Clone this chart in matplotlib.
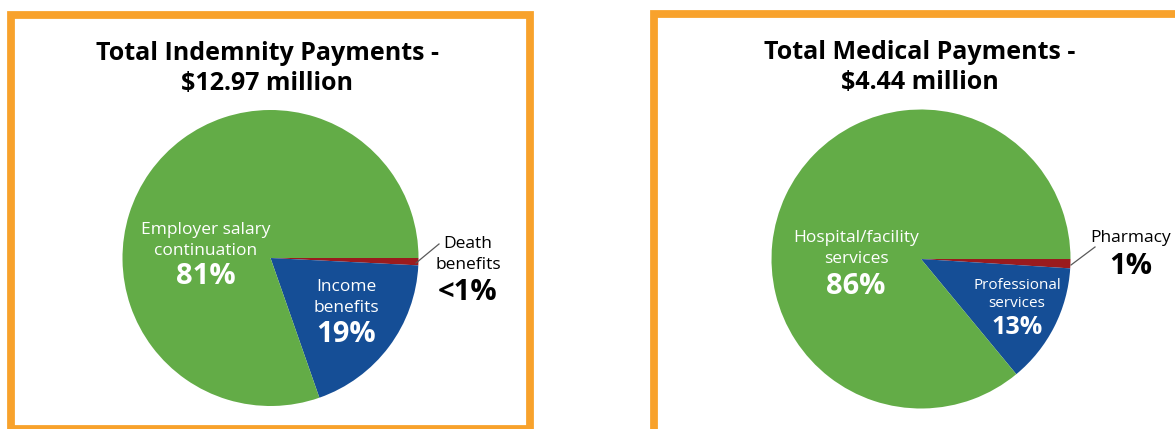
import matplotlib
matplotlib.use("Agg")
import matplotlib.pyplot as plt
from matplotlib.patches import Rectangle

plt.rcParams['font.family'] = ['Open Sans', 'DejaVu Sans']

# Indemnity payments breakdown (share of $12.97 million)
indemnity_categories = ["Death benefits", "Income benefits", "Employer salary continuation"]
indemnity_values = [0.8, 19, 81]
indemnity_pct_labels = ["<1%", "19%", "81%"]

# Medical payments breakdown (share of $4.44 million)
medical_categories = ["Pharmacy", "Professional services", "Hospital/facility services"]
medical_values = [1, 13, 86]
medical_pct_labels = ["1%", "13%", "86%"]

indemnity_title = "Total Indemnity Payments -\n$12.97 million"
medical_title = "Total Medical Payments -\n$4.44 million"

colors = ["#9A1B1E", "#154E96", "#63AC47"]
ORANGE = "#F8A22C"
W, H = 1175, 429

fig = plt.figure(figsize=(W / 100, H / 100), dpi=100)
ax = fig.add_axes([0, 0, 1, 1])
ax.set_xlim(0, W)
ax.set_ylim(0, H)
ax.set_aspect('equal')
ax.axis('off')


def Y(y):
    """Convert a top-down pixel row to the axes' bottom-up coordinate."""
    return H - y


def draw_panel(values, center, radius):
    ax.pie(values, colors=colors, startangle=0, counterclock=False,
           center=center, radius=radius, frame=True,
           wedgeprops=dict(linewidth=0))


# Panel frames
ax.add_patch(Rectangle((11, Y(428.5)), 519, 414, fill=False, edgecolor=ORANGE,
                       linewidth=5.6, joinstyle='miter', clip_on=False))
ax.add_patch(Rectangle((654, Y(430.5)), 560, 417, fill=False, edgecolor=ORANGE,
                       linewidth=5.6, joinstyle='miter', clip_on=False))

LBL = 12.5      # category label size
PCT = 21        # percentage label size

# Left panel: indemnity
draw_panel(indemnity_values, (270.5, Y(258)), 148)
ax.text(267, Y(68.5), indemnity_title, ha='center', va='center', fontsize=18,
        fontweight='bold', color='black', linespacing=1.3)
ax.text(206, Y(240.5), "Employer salary\ncontinuation", ha='center', va='center',
        fontsize=LBL, color='white', linespacing=1.35)
ax.text(206, Y(277), indemnity_pct_labels[2], ha='center', va='center',
        fontsize=PCT, fontweight='bold', color='white')
ax.text(346, Y(297.5), "Income\nbenefits", ha='center', va='center',
        fontsize=LBL, color='white', linespacing=1.35)
ax.text(346, Y(335), indemnity_pct_labels[1], ha='center', va='center',
        fontsize=PCT, fontweight='bold', color='white')
ax.text(468, Y(254.5), "Death\nbenefits", ha='center', va='center',
        fontsize=LBL, color='black', linespacing=1.35)
ax.text(468, Y(293), indemnity_pct_labels[0], ha='center', va='center',
        fontsize=PCT, fontweight='bold', color='black')
ax.plot([416, 439], [Y(263), Y(244)], color='#595959', linewidth=0.9)

# Right panel: medical
draw_panel(medical_values, (921, Y(259)), 149.5)
ax.text(920, Y(67.5), medical_title, ha='center', va='center', fontsize=18,
        fontweight='bold', color='black', linespacing=1.3)
ax.text(856, Y(248.5), "Hospital/facility\nservices", ha='center', va='center',
        fontsize=LBL, color='white', linespacing=1.35)
ax.text(856, Y(287), medical_pct_labels[2], ha='center', va='center',
        fontsize=PCT, fontweight='bold', color='white')
ax.text(1017, Y(294.5), "Professional\nservices", ha='center', va='center',
        fontsize=11, color='white', linespacing=1.25)
ax.text(1017, Y(327), medical_pct_labels[1], ha='center', va='center',
        fontsize=18, fontweight='bold', color='white')
ax.text(1131, Y(238), "Pharmacy", ha='center', va='center',
        fontsize=LBL, color='black')
ax.text(1131, Y(267), medical_pct_labels[0], ha='center', va='center',
        fontsize=PCT, fontweight='bold', color='black')
ax.plot([1071, 1095], [Y(265), Y(247)], color='#595959', linewidth=0.9)

ax.set_xlim(0, W)
ax.set_ylim(0, H)
ax.axis('off')

fig.savefig("out.png", dpi=100, facecolor='white')
